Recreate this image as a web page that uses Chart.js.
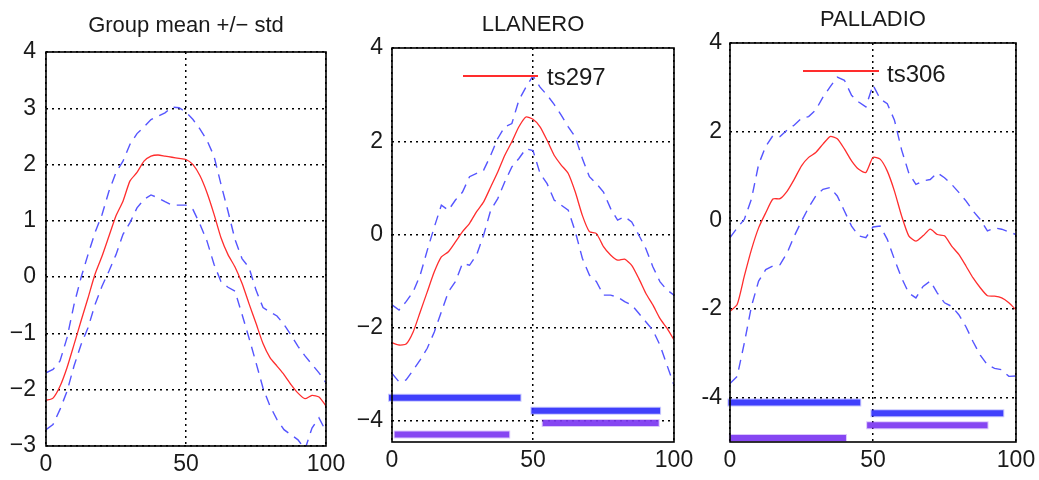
<!DOCTYPE html>
<html>
<head>
<meta charset="utf-8">
<script src="https://cdn.jsdelivr.net/npm/chart.js@4.4.1/dist/chart.umd.min.js"></script>
<style>
  body { margin: 0; background: #fff; }
  #wrap { position: relative; width: 1039px; height: 480px; }
  canvas { position: absolute; left: 0; top: 0; }
</style>
</head>
<body>
<div id="wrap">
  <canvas id="c1" width="1039" height="480"></canvas>
  <canvas id="c2" width="1039" height="480"></canvas>
  <canvas id="c3" width="1039" height="480"></canvas>
</div>
<script>
// sample positions (time, 0..100)
const xs = [0,2.5,5,7.5,10,12.5,15,17.5,20,22.5,25,27.5,30,32.5,35,37.5,40,42.5,45,47.5,50,
            52.5,55,57.5,60,62.5,65,67.5,70,72.5,75,77.5,80,82.5,85,87.5,90,92.5,95,97.5,100];
const xTicks = [0, 50, 100];

// Group mean +/- std
const groupMean = [-2.19,-2.15,-1.94,-1.61,-1.20,-0.78,-0.37,0.05,0.37,0.73,1.09,1.35,1.71,1.86,2.06,2.15,2.17,2.15,2.13,2.11,2.09,
                   2.00,1.80,1.50,1.12,0.70,0.40,0.18,-0.11,-0.47,-0.82,-1.18,-1.43,-1.58,-1.73,-1.91,-2.06,-2.16,-2.10,-2.13,-2.29];
const groupUpper = [-1.70,-1.64,-1.49,-1.08,-0.49,-0.01,0.40,0.79,1.11,1.53,1.86,2.06,2.36,2.55,2.67,2.80,2.86,2.92,3.02,3.01,2.93,
                    2.80,2.63,2.43,2.15,1.65,1.17,0.67,0.33,0.17,-0.23,-0.54,-0.62,-0.69,-0.84,-1.03,-1.23,-1.40,-1.55,-1.70,-1.88];
const groupLower = [-2.71,-2.62,-2.35,-2.03,-1.58,-1.20,-0.90,-0.49,-0.16,0.11,0.40,0.76,0.97,1.23,1.38,1.46,1.41,1.34,1.28,1.28,1.28,
                    1.20,0.94,0.64,0.23,-0.08,-0.18,-0.25,-0.66,-1.08,-1.52,-1.97,-2.29,-2.53,-2.71,-2.80,-2.89,-3.06,-2.68,-2.50,-2.74];
const groupYTicks = [-3,-2,-1,0,1,2,3,4];

// LLANERO (ts297)
const llaneroTs = [-2.32,-2.37,-2.35,-2.09,-1.66,-1.23,-0.80,-0.48,-0.37,-0.16,0.06,0.24,0.49,0.70,1.02,1.34,1.70,1.99,2.31,2.52,2.47,
                   2.31,2.02,1.70,1.49,1.31,0.91,0.41,0.06,0.02,-0.26,-0.44,-0.55,-0.53,-0.66,-0.94,-1.26,-1.51,-1.80,-2.01,-2.26];
const llaneroUpper = [-1.51,-1.62,-1.44,-1.23,-0.87,-0.34,0.16,0.63,0.52,0.74,0.91,1.24,1.31,1.38,1.70,2.06,2.31,2.38,2.88,3.16,3.40,
                      3.16,2.99,2.79,2.56,2.31,2.09,1.63,1.24,1.09,0.91,0.56,0.31,0.38,0.27,-0.01,-0.30,-0.69,-1.01,-1.19,-1.30];
const llaneroLower = [-2.98,-3.16,-3.12,-2.91,-2.69,-2.44,-2.09,-1.66,-1.23,-1.01,-0.62,-0.66,-0.44,-0.01,0.52,0.77,1.13,1.45,1.63,1.84,1.80,
                      1.31,1.09,0.74,0.63,0.52,0.06,-0.51,-0.87,-1.01,-1.30,-1.30,-1.34,-1.44,-1.51,-1.69,-1.87,-2.05,-2.37,-2.80,-3.23];
// [start, end, level]
const llaneroBlueBars = [[0, 44.5, -3.5], [50.5, 94, -3.78]];
const llaneroPurpleBars = [[2, 40.5, -4.29], [54.5, 93.5, -4.04]];
const llaneroYTicks = [-4,-2,0,2,4];

// PALLADIO (ts306)
const palladioTs = [-2.05,-1.90,-1.26,-0.66,-0.17,0.17,0.48,0.49,0.66,0.93,1.23,1.42,1.53,1.72,1.89,1.84,1.61,1.34,1.15,1.08,1.42,
                    1.38,1.11,0.66,0.10,-0.35,-0.47,-0.35,-0.20,-0.32,-0.35,-0.58,-0.77,-1.03,-1.30,-1.52,-1.70,-1.71,-1.75,-1.86,-2.02];
const palladioUpper = [-0.39,-0.17,0.02,0.48,1.26,1.67,1.91,1.89,2.04,2.15,2.30,2.34,2.49,2.78,3.01,3.23,3.16,2.82,2.67,2.56,3.05,
                       2.74,2.63,2.26,1.59,1.07,0.81,0.89,0.92,1.07,0.96,0.81,0.63,0.44,0.21,0.02,-0.24,-0.17,-0.20,-0.26,-0.32];
const palladioLower = [-3.68,-3.52,-2.77,-1.94,-1.37,-1.11,-1.03,-1.00,-0.73,-0.35,-0.02,0.29,0.55,0.70,0.74,0.55,0.21,-0.13,-0.35,-0.39,-0.15,
                       -0.13,-0.43,-0.88,-1.30,-1.64,-1.75,-1.49,-1.37,-1.64,-1.86,-1.94,-2.13,-2.40,-2.74,-3.04,-3.26,-3.34,-3.37,-3.52,-3.51];
const palladioBlueBars = [[0.5, 44.5, -4.11], [50.5, 94.5, -4.35]];
const palladioPurpleBars = [[1, 39.5, -4.91], [49, 89, -4.62]];
const palladioYTicks = [-4,-2,0,2,4];

const FONT = "'Liberation Sans', Arial, sans-serif";
const RED = 'rgb(255,45,45)';
const BLUE = 'rgb(85,85,255)';

function pts(ys) { return ys.map((y, i) => ({x: xs[i], y: y})); }

// marker rows: a faint fringe under a dense core
function barSets(bars, halo, core) {
  const out = [];
  bars.forEach(b => {
    const d = [{x: b[0], y: b[2]}, {x: b[1], y: b[2]}];
    out.push({data: d, borderColor: halo, borderWidth: 8, borderCapStyle: 'square', pointRadius: 0, clip: false});
    out.push({data: d, borderColor: core, borderWidth: 6, borderCapStyle: 'square', pointRadius: 0, clip: false});
  });
  return out;
}

function minusFmt(v) { return v < 0 ? '\u2212' + Math.abs(v) : String(v); }

// box round the axes, title and legend
const decor = {
  id: 'decor',
  afterDraw(chart, args, o) {
    const ctx = chart.ctx, a = chart.chartArea;
    ctx.save();
    ctx.strokeStyle = '#000';
    ctx.lineWidth = 1.6;
    ctx.strokeRect(a.left, a.top, a.right - a.left, a.bottom - a.top);
    ctx.fillStyle = '#1a1a1a';
    ctx.font = '22px ' + FONT;
    ctx.textAlign = 'center';
    ctx.textBaseline = 'alphabetic';
    ctx.fillText(o.title, (a.left + a.right) / 2, o.titleY);
    if (o.legend) {
      const L = o.legend;
      ctx.strokeStyle = RED;
      ctx.lineWidth = 2;
      ctx.beginPath();
      ctx.moveTo(L.x1, L.y);
      ctx.lineTo(L.x2, L.y);
      ctx.stroke();
      ctx.font = '24px ' + FONT;
      ctx.textAlign = 'left';
      ctx.fillText(chart.data.datasets[0].label, L.tx, L.ty);
    }
    ctx.restore();
  }
};

function panel(id, p) {
  const datasets = [
    {label: p.label, data: pts(p.mean), borderColor: RED, borderWidth: 1.3, pointRadius: 0, tension: 0.2},
    {data: pts(p.upper), borderColor: BLUE, borderWidth: 1.4, borderDash: [10, 7], pointRadius: 0},
    {data: pts(p.lower), borderColor: BLUE, borderWidth: 1.4, borderDash: [10, 7], pointRadius: 0}
  ];
  if (p.blue) datasets.push(...barSets(p.blue, 'rgba(70,70,255,0.3)', 'rgba(35,35,250,0.88)'));
  if (p.purple) datasets.push(...barSets(p.purple, 'rgba(140,70,245,0.3)', 'rgba(115,45,238,0.88)'));

  const grid = {color: '#000', lineWidth: 1.5, drawTicks: false};
  const tickFont = {family: FONT, size: 23};

  return new Chart(document.getElementById(id), {
    type: 'line',
    data: {datasets},
    options: {
      responsive: false,
      animation: false,
      events: [],
      layout: {padding: p.pad},
      plugins: {
        legend: {display: false},
        tooltip: {enabled: false},
        decor: {title: p.title, titleY: p.titleY, legend: p.legend}
      },
      scales: {
        x: {
          type: 'linear', min: 0, max: 100,
          grid: grid,
          border: {display: false, dash: [2, 4]},
          ticks: {font: tickFont, color: '#1a1a1a', padding: 5, maxRotation: 0},
          afterBuildTicks: s => { s.ticks = xTicks.map(v => ({value: v})); },
          afterFit: s => { s.height = p.xh; s.paddingLeft = 0; s.paddingRight = 0; }
        },
        y: {
          type: 'linear', min: p.ymin, max: p.ymax,
          grid: grid,
          border: {display: false, dash: [2, 4]},
          ticks: {font: tickFont, color: '#1a1a1a', padding: p.ypad, callback: p.fmt},
          afterBuildTicks: s => { s.ticks = p.yTicks.map(v => ({value: v})); },
          afterFit: s => { s.width = 40; s.paddingTop = 0; s.paddingBottom = 0; }
        }
      }
    },
    plugins: [decor]
  });
}

panel('c1', {
  title: 'Group mean +/\u2212 std', titleY: 32,
  mean: groupMean, upper: groupUpper, lower: groupLower,
  ymin: -3, ymax: 4, yTicks: groupYTicks, fmt: minusFmt, ypad: 10,
  pad: {left: 6, right: 713, top: 52, bottom: 0}, xh: 34
});

panel('c2', {
  title: 'LLANERO', titleY: 31, label: 'ts297',
  mean: llaneroTs, upper: llaneroUpper, lower: llaneroLower,
  blue: llaneroBlueBars, purple: llaneroPurpleBars,
  ymin: -4.45, ymax: 4, yTicks: llaneroYTicks, fmt: minusFmt, ypad: 9,
  pad: {left: 352, right: 365, top: 48, bottom: 0}, xh: 38,
  legend: {x1: 463, x2: 538, y: 76, tx: 547, ty: 85}
});

panel('c3', {
  title: 'PALLADIO', titleY: 26, label: 'ts306',
  mean: palladioTs, upper: palladioUpper, lower: palladioLower,
  blue: palladioBlueBars, purple: palladioPurpleBars,
  ymin: -5, ymax: 4, yTicks: palladioYTicks, fmt: v => String(v), ypad: 8,
  pad: {left: 690, right: 23, top: 43, bottom: 0}, xh: 38,
  legend: {x1: 803, x2: 879, y: 71, tx: 887, ty: 82}
});
</script>
</body>
</html>
